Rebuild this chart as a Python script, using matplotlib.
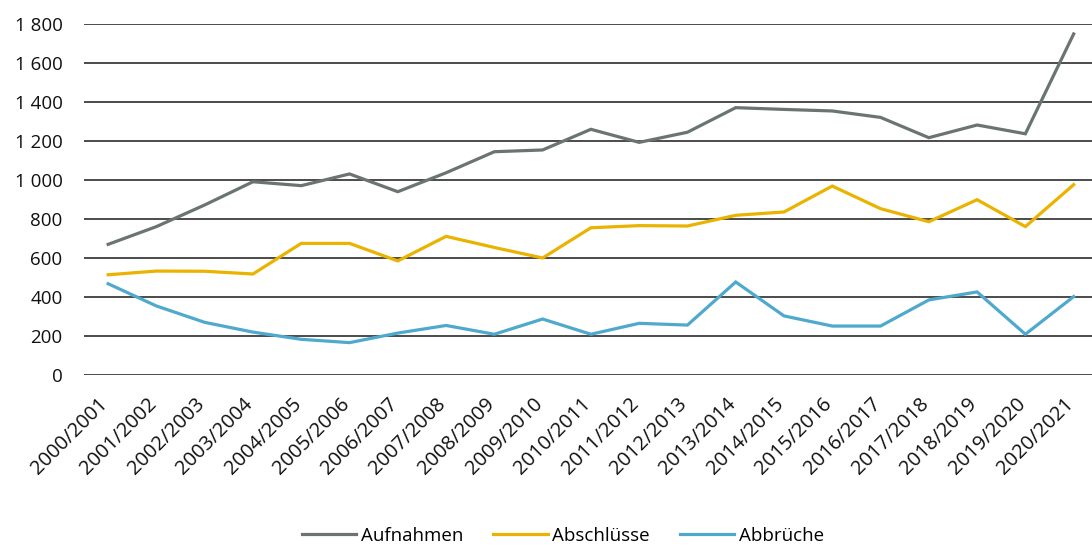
import matplotlib
matplotlib.use("Agg")
import matplotlib.pyplot as plt
from matplotlib.ticker import FuncFormatter
from matplotlib.transforms import ScaledTranslation

categories = ["2000/2001", "2001/2002", "2002/2003", "2003/2004", "2004/2005",
              "2005/2006", "2006/2007", "2007/2008", "2008/2009", "2009/2010",
              "2010/2011", "2011/2012", "2012/2013", "2013/2014", "2014/2015",
              "2015/2016", "2016/2017", "2017/2018", "2018/2019", "2019/2020",
              "2020/2021"]
aufnahmen = [670, 761, 872, 991, 971, 1031, 940, 1037, 1145, 1154, 1260,
             1193, 1245, 1371, 1362, 1354, 1321, 1217, 1282, 1237, 1749]
abschluesse = [514, 533, 532, 518, 675, 675, 585, 711, 654, 600, 755,
               766, 764, 819, 836, 969, 853, 786, 899, 761, 976]
abbrueche = [468, 354, 270, 220, 183, 166, 215, 254, 209, 287, 209,
             265, 256, 477, 303, 251, 251, 385, 426, 209, 402]
yticks = [0, 200, 400, 600, 800, 1000, 1200, 1400, 1600, 1800]

plt.rcParams['font.family'] = ['Open Sans', 'DejaVu Sans']

fig = plt.figure(figsize=(10.92, 5.47), dpi=100)
ax = fig.add_axes([84/1092, 1-375/547, 1-84/1092, (375-24)/547])

x = list(range(len(categories)))
ax.plot(x, aufnahmen, color="#6b756f", lw=2.3, label="Aufnahmen", solid_joinstyle="miter", zorder=3)
ax.plot(x, abschluesse, color="#e9b300", lw=2.3, label="Abschlüsse", solid_joinstyle="miter", zorder=3)
ax.plot(x, abbrueche, color="#4ea9cd", lw=2.3, label="Abbrüche", solid_joinstyle="miter", zorder=3)

ax.set_xlim(-0.5, 20.38)
ax.set_ylim(0, 1800)
ax.set_yticks(yticks)
ax.yaxis.set_major_formatter(FuncFormatter(lambda v, p: f"{int(v):,}".replace(",", " ")))
ax.grid(axis="y", color="#1a1a1a", lw=1.1, zorder=1)
ax.set_axisbelow(True)
for s in ax.spines.values():
    s.set_visible(False)
ax.tick_params(axis="y", length=0, pad=15.5, labelsize=13.5, colors="#111111")
ax.tick_params(axis="x", length=0, pad=19, labelsize=14.5, colors="#111111")
ax.set_xticks(x)
ax.set_xticklabels(categories, rotation=45, ha="right", va="center", rotation_mode="anchor")
off = ScaledTranslation(-3/100, 0, fig.dpi_scale_trans)
for lab in ax.get_xticklabels():
    lab.set_transform(lab.get_transform() + off)

leg = fig.legend(loc="center", bbox_to_anchor=(563/1092, 1-536/547), ncol=3,
                 frameon=False, fontsize=13.5, handlelength=2.9, handletextpad=0.25,
                 columnspacing=1.6)
for l in leg.get_lines():
    l.set_linewidth(2.3)

fig.savefig("out.png", dpi=100)
